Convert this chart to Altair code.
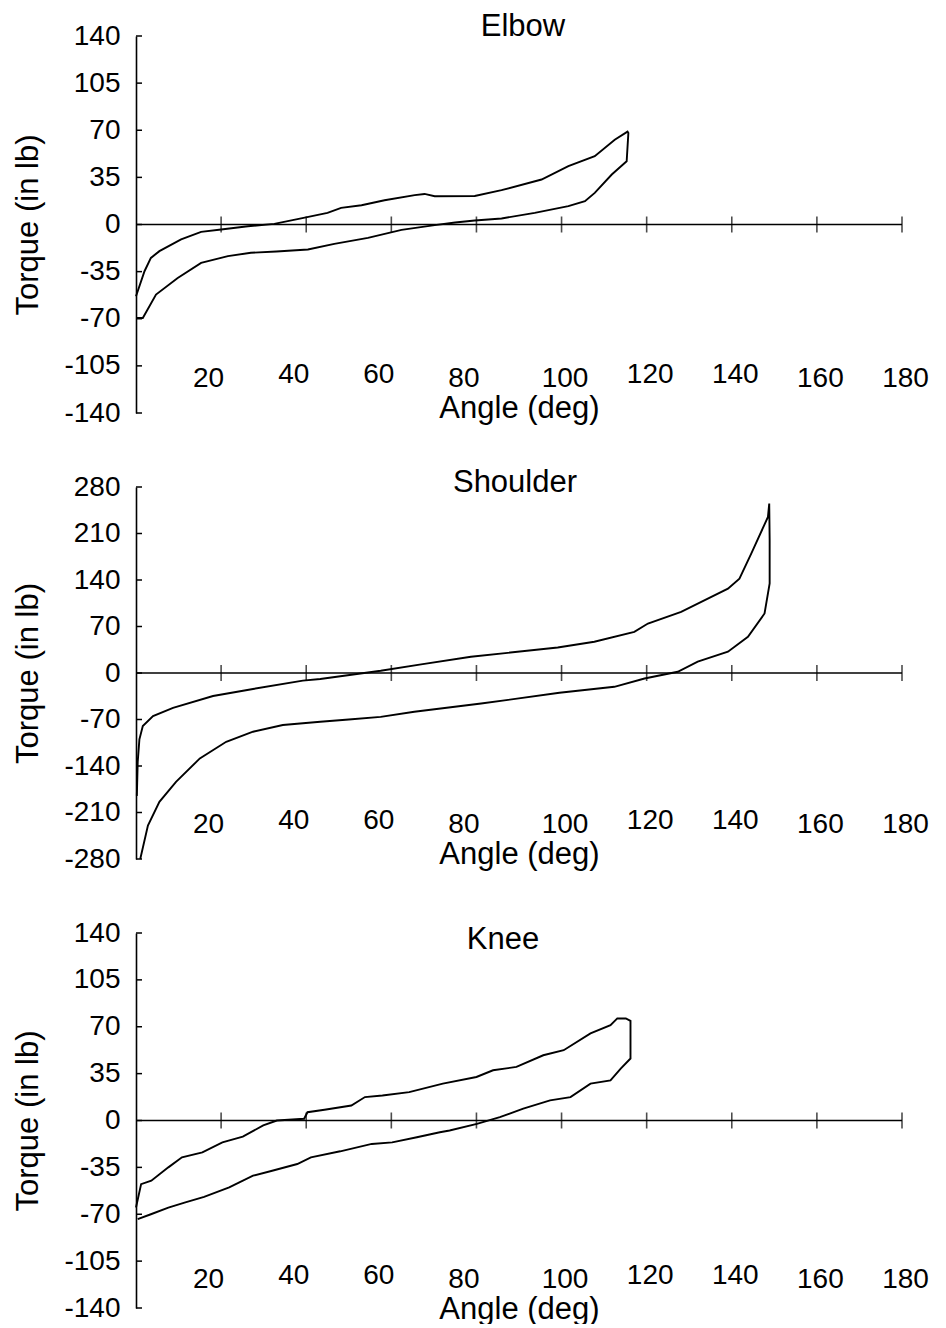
import altair as alt
import pandas as pd

FONT = "Liberation Sans"

x_ticks = [20, 40, 60, 80, 100, 120, 140, 160, 180]
y_ticks_small = [-140, -105, -70, -35, 0, 35, 70, 105, 140]
y_ticks_large = [-280, -210, -140, -70, 0, 70, 140, 210, 280]

elbow_angle = [0, 1.6, 4.7, 9.8, 15.3, 21.6, 27, 33, 40.4, 46.6, 54.5, 62.4, 70.2, 75, 79.6,
               85.9, 93.7, 101.6, 105.5, 107.8, 111.8, 115.3, 115.7, 115.5, 112.5, 107.8,
               101.6, 95.3, 85.9, 79.6, 70.2, 67.8, 65.5, 58.4, 53, 48.2, 45, 38.8, 32.5,
               26.3, 20, 15.3, 10.6, 5.5, 3.5, 2.0, 0]
elbow_torque = [-69.4, -69.4, -52, -39.7, -28.5, -23.5, -21, -20, -18.6, -14.4, -9.9, -4, -0.5,
                1.5, 3, 4.5, 8.6, 13.6, 17.3, 23.5, 37.1, 47, 68, 69, 63, 50.7, 43.3, 33.4,
                25.5, 21.2, 21, 22.7, 21.8, 18, 14.3, 12.4, 8.6, 4.5, 0.5, -1.3, -3.7, -5.5,
                -11.1, -19.8, -24.8, -34.7, -53.3]

shoulder_angle = [1.0, 2.8, 5.5, 9.4, 15, 21.2, 27.5, 34.5, 43.3, 50, 57.5, 65.4, 81.1, 99.5,
                  112.4, 119.5, 127.3, 132, 139.1, 143.8, 147.7, 148.9, 148.9, 148.8,
                  148.5, 144.6, 141.8, 139.1, 128.1, 120.3, 117.1, 107.7, 99.1, 78.7, 67,
                  57.5, 43.3, 39.2, 27.5, 18.1, 8.7, 4.0, 1.6, 0.8, 0.4, 0.2]
shoulder_torque = [-280, -229.7, -194, -164, -128.6, -103.5, -88.4, -78.3, -73.3, -70, -66,
                   -58.4, -46, -29.8, -20.8, -8.3, 1.8, 17, 32, 54.5, 89.6, 135, 200, 255,
                   235, 180, 142, 127, 92, 74.5, 62, 47, 38.4, 24.4, 13, 3.3, -9, -11.5, -24,
                   -34.6, -52.6, -65, -79.8, -99.9, -134, -185]

knee_angle = [0.4, 3.5, 7.6, 11.6, 16, 21.9, 27.5, 32, 37.9, 41.1, 48, 55.4, 60.2, 66, 71.4,
              73.7, 80.1, 85.5, 91, 97.3, 102.1, 106.8, 111.5, 113.9, 116.2, 116.2,
              115.1, 113.1, 111.5, 106.8, 100.5, 95.7, 89.4, 83.9, 80, 72.1, 64.2, 57.9,
              53.8, 50.6, 44.3, 40.3, 39.5, 33.1, 29.9, 25.1, 20.3, 15.6, 10.8, 7.6, 3.6,
              1.2, 0]
knee_torque = [-73.7, -70, -65, -61.2, -57, -50, -41.2, -37.5, -32.5, -27.5, -23, -17.5, -16.3,
               -12.5, -8.8, -7.5, -2.5, 2.5, 8.8, 15, 17.5, 27.5, 30, 38.8, 46.3, 74.4,
               76.2, 76.2, 71.2, 65, 52.5, 48.7, 40, 37.5, 32.5, 27.5, 21.2, 18.7, 17.5,
               11.2, 8, 6.2, 1.3, 0, -3.7, -12, -16.3, -23.8, -27.5, -35, -45, -47.5, -65]

W = 766


def panel(name, angles, torques, yticks, height, x_offset, title_x, title_y):
    df = pd.DataFrame({"angle": angles, "torque": torques, "order": list(range(len(angles)))})
    xs = alt.Scale(domain=[0, 180], nice=False, zero=False)
    ys = alt.Scale(domain=[yticks[0], yticks[-1]], nice=False, zero=False)

    x_axis = alt.Axis(
        values=x_ticks, title="Angle (deg)", domain=False, ticks=False, tickSize=0,
        grid=False, offset=x_offset, labelFont=FONT, labelFontSize=28, labelColor="black",
        labelPadding={"condition": {"test": "indexof([40, 60, 120, 140], datum.value) >= 0",
                                    "value": 0}, "value": 4},
        labelOffset={"condition": {"test": "datum.value <= 80", "value": -13}, "value": 3},
        labelFlush=False, labelOverlap=False, labelBound=False,
        titleFont=FONT, titleFontSize=31, titleFontWeight="normal", titleColor="black",
        titlePadding=1,
    )
    y_axis = alt.Axis(
        values=yticks, title="Torque (in lb)", domain=True, domainColor="black",
        domainWidth=1.6, ticks=False, tickSize=0, grid=False, labelFont=FONT,
        labelFontSize=28, labelColor="black", labelPadding=16, labelFlush=False,
        labelExpr="'' + datum.value",
        labelOverlap=False, labelBound=False, titleFont=FONT, titleFontSize=31,
        titleFontWeight="normal", titleColor="black", titlePadding=19,
    )

    line = alt.Chart(df).mark_line(color="black", strokeWidth=1.9, clip=False).encode(
        x=alt.X("angle:Q", scale=xs, axis=x_axis),
        y=alt.Y("torque:Q", scale=ys, axis=y_axis),
        order="order:Q",
    )
    zero = alt.Chart(pd.DataFrame({"v": [0]})).mark_rule(color="black", strokeWidth=1.6).encode(
        x=alt.XDatum(0, axis=x_axis, scale=xs),
        x2=alt.X2Datum(180),
        y=alt.YDatum(0, axis=y_axis, scale=ys),
    )
    xt = alt.Chart(pd.DataFrame({"angle": x_ticks})).mark_tick(
        orient="vertical", size=16, thickness=1.6, color="black"
    ).encode(
        x=alt.X("angle:Q", axis=x_axis, scale=xs),
        y=alt.YDatum(0, axis=y_axis, scale=ys),
    )
    yt = alt.Chart(pd.DataFrame({"torque": yticks})).mark_rule(
        color="black", strokeWidth=1.5
    ).encode(
        y=alt.Y("torque:Q", axis=y_axis, scale=ys),
        x=alt.value(0),
        x2=alt.value(6),
    )
    title = alt.Chart(pd.DataFrame({"t": [name]})).mark_text(
        font=FONT, fontSize=31, color="black", align="center", baseline="alphabetic"
    ).encode(
        text="t:N",
        x=alt.value(title_x),
        y=alt.value(title_y),
    )
    return alt.layer(line, zero, xt, yt, title).properties(width=W, height=height)


elbow = panel("Elbow", elbow_angle, elbow_torque, y_ticks_small, 377, -53, 387, 0)
shoulder = panel("Shoulder", shoulder_angle, shoulder_torque, y_ticks_large, 372, -53, 379, 5)
knee = panel("Knee", knee_angle, knee_torque, y_ticks_small, 375, -47, 367, 16)

chart = alt.vconcat(elbow, shoulder, knee, spacing=74, bounds="flush").configure_view(
    stroke=None
).properties(
    padding={"left": 4, "top": 3, "right": 5, "bottom": 0}
)

chart.save("out.html", embed_options={"renderer": "svg", "actions": False})
